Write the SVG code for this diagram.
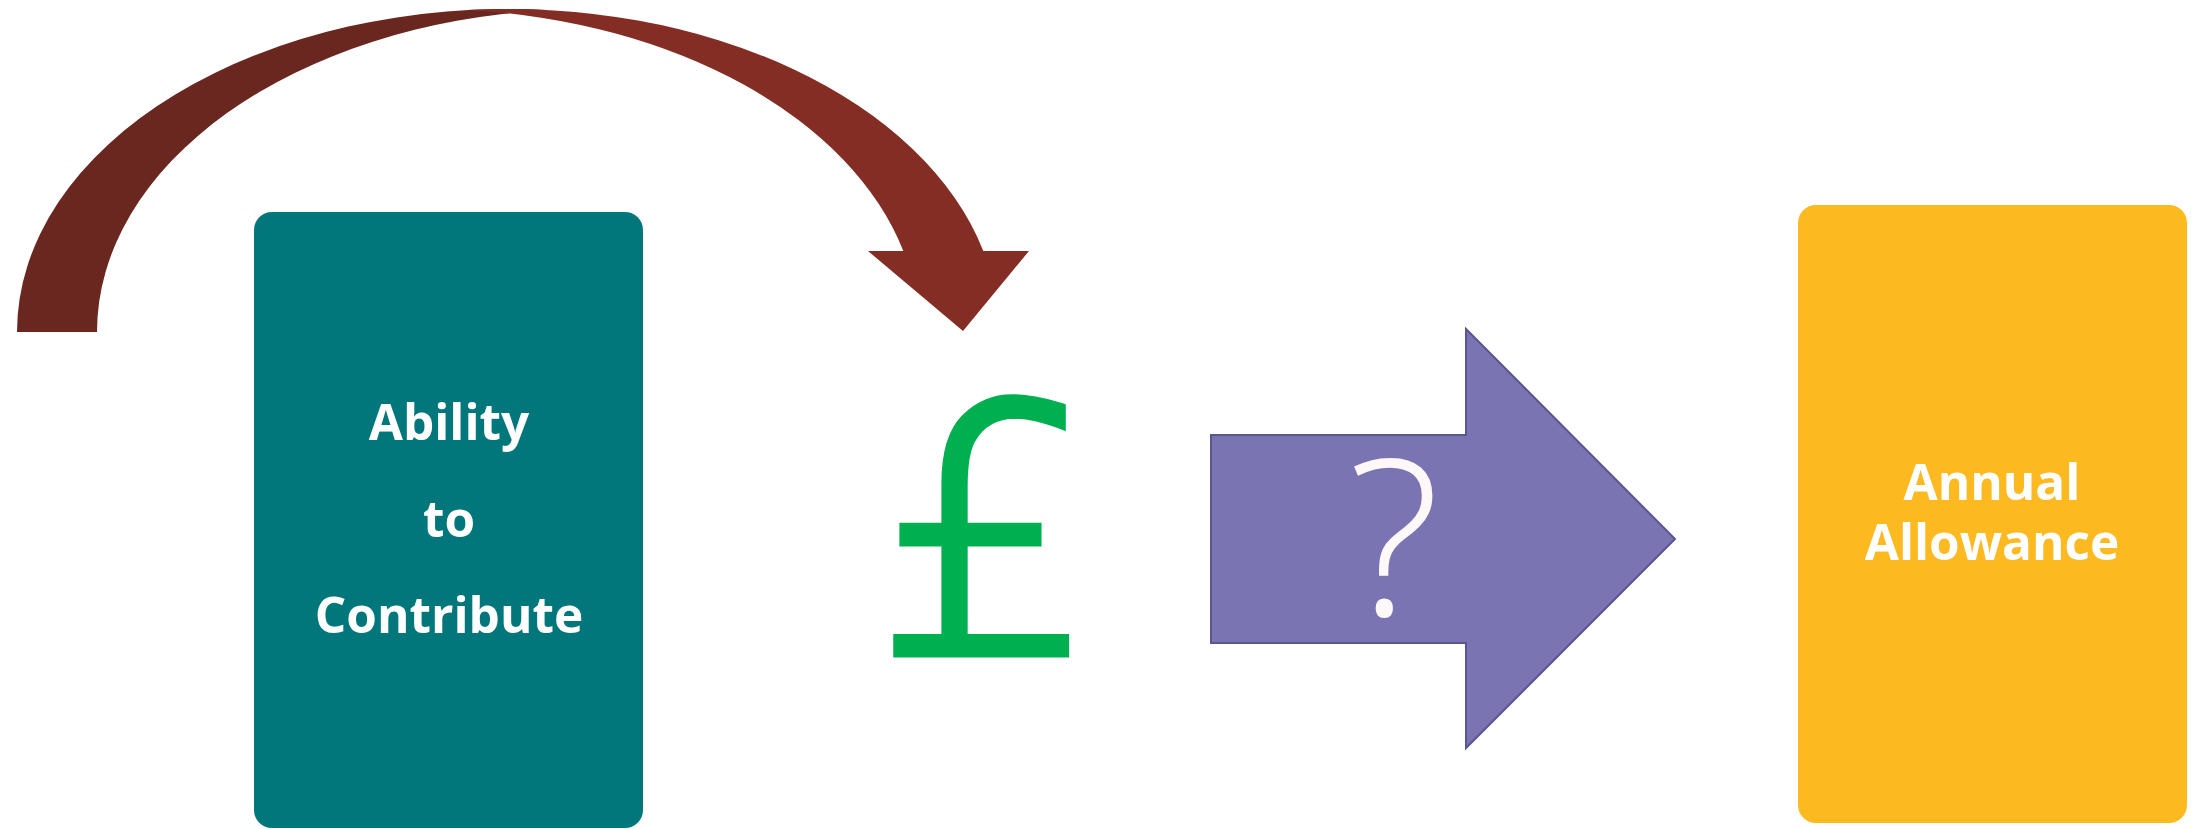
<svg xmlns="http://www.w3.org/2000/svg" width="2196" height="829" viewBox="0 0 2196 829">
  <style>
    .lbl { font-family: "Open Sans", "Noto Sans", "Liberation Sans", sans-serif; font-weight: 700; font-size: 49.5px; fill: #FFFFFF; text-anchor: middle; }
    .card { stroke: none; }
  </style>
  <rect x="0" y="0" width="2196" height="829" fill="#FFFFFF"/>
  <g id="connectors">
    <path id="curve-back" d="M17,332 A491,323 0 0 1 548,10.1 A491,323 0 0 0 97,332 Z" fill="#6A2720"/>
    <path id="curve-front" d="M468,10.1 A491,323 0 0 1 983.3,251 L1029,251 L963,331 L868,251 L903.3,251 A491,323 0 0 0 468,10.1 Z" fill="#832D24"/>
  </g>
  <g id="node-ability">
    <rect class="card" x="254" y="212" width="389" height="616" rx="18" ry="18" fill="#01777C"/>
    <text class="lbl" x="449" y="440">Ability</text>
    <text class="lbl" x="449" y="537">to</text>
    <text class="lbl" x="449" y="633">Contribute</text>
  </g>
  <g id="node-pound">
    <text x="985.5" y="652" font-family="DejaVu Sans, sans-serif" font-weight="200" font-size="340" fill="#00B050" stroke="#00B050" stroke-width="11" stroke-linejoin="miter" text-anchor="middle">£</text>
  </g>
  <g id="node-question">
    <path d="M1211,435 L1466,435 L1466,329 L1675,539 L1466,748 L1466,643 L1211,643 Z" fill="#7B74B3" stroke="#5B5590" stroke-width="2"/>
    <text x="1394" y="616" font-family="Open Sans, sans-serif" font-weight="300" font-size="218" fill="#FFF8F8" text-anchor="middle">?</text>
  </g>
  <g id="node-allowance">
    <rect class="card" x="1798" y="205" width="389" height="618" rx="18" ry="18" fill="#FDB920"/>
    <text class="lbl" x="1992" y="500">Annual</text>
    <text class="lbl" x="1992" y="560">Allowance</text>
  </g>
</svg>
